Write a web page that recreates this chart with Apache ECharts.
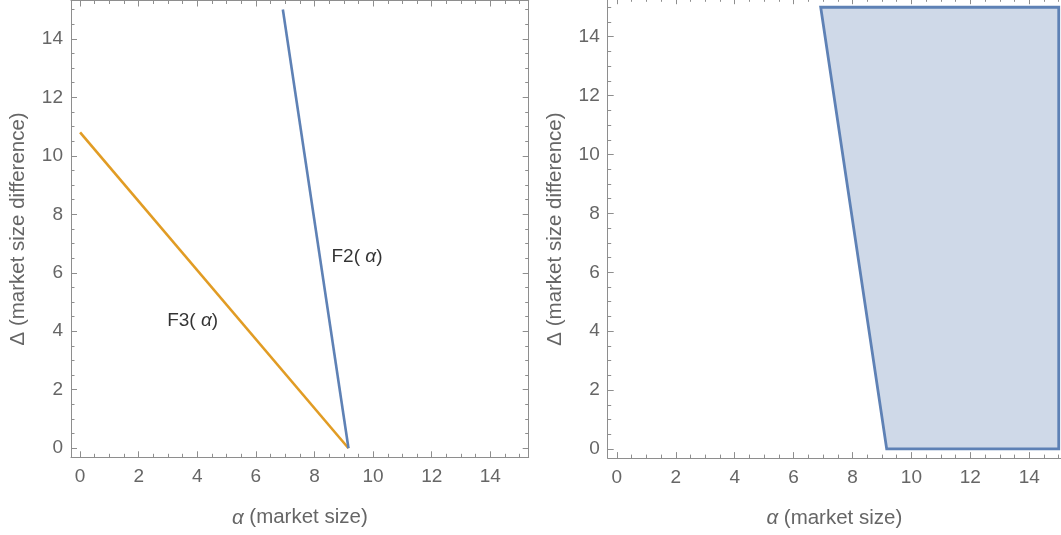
<!DOCTYPE html>
<html>
<head>
<meta charset="utf-8">
<script src="https://cdn.jsdelivr.net/npm/echarts@6/dist/echarts.min.js"></script>
<style>
html,body{margin:0;padding:0;background:#fff;}
#c{width:1061px;height:535px;}
</style>
</head>
<body>
<div id="c"></div>
<script>
// ---- data ----
const f2Alpha = [6.92, 9.16];
const f2Delta = [15, 0];
const f3Alpha = [0, 9.16];
const f3Delta = [10.8, 0];
const regionAlpha = [6.92, 15, 15, 9.16];
const regionDelta = [15, 15, 0, 0];
const majorTicks = [0, 2, 4, 6, 8, 10, 12, 14];
const minorTicks = [0.5, 1, 1.5, 2.5, 3, 3.5, 4.5, 5, 5.5, 6.5, 7, 7.5, 8.5, 9, 9.5, 10.5, 11, 11.5, 12.5, 13, 13.5, 14.5, 15];
const labelF2 = {text: 'F2', alpha: 9.45, delta: 6.55};
const labelF3 = {text: 'F3', alpha: 3.84, delta: 4.35};
// visible axis ranges (left plot full frame; right plot cropped at the page edge)
const leftRange = {xMin: -0.31, xMax: 15.31, yMin: -0.31, yMax: 15.31};
const rightRange = {xMin: -0.31, xMax: 15.077, yMin: -0.31, yMax: 15.246};

const FONT = '"Liberation Sans", Arial, sans-serif';
const FRAME = '#8e8e8e';
const LABEL = '#666666';
const BLUE = '#5E81B5';
const ORANGE = '#E19C24';

function mkAxes(dim, gridIndex, rng, opts) {
  const isX = dim === 'x';
  const posA = isX ? 'bottom' : 'left';
  const posB = isX ? 'top' : 'right';
  const min = isX ? rng.xMin : rng.yMin;
  const max = isX ? rng.xMax : rng.yMax;
  const base = {type: 'value', gridIndex, min, max, splitLine: {show: false}};
  const nameRich = {i: {fontStyle: 'italic', fontFamily: FONT, fontSize: 20.5, color: LABEL}};
  const nm = isX ? '{i|α} (market size)' : 'Δ (market size difference)';
  const list = [];
  list.push(Object.assign({}, base, {
    position: posA,
    name: nm,
    nameLocation: 'middle',
    nameGap: isX ? 50 : 42,
    nameTextStyle: {color: LABEL, fontFamily: FONT, fontSize: 20.5, rich: nameRich},
    axisLine: {show: true, onZero: false, lineStyle: {color: FRAME, width: 1}},
    axisTick: {show: true, inside: true, length: 6, customValues: majorTicks, lineStyle: {color: FRAME}},
    axisLabel: {show: true, customValues: majorTicks, margin: isX ? 10 : 8, color: LABEL, fontFamily: FONT, fontSize: 19},
  }));
  list.push(Object.assign({}, base, {
    position: posA,
    axisLine: {show: false, onZero: false},
    axisTick: {show: true, inside: true, length: 3.5, customValues: minorTicks, lineStyle: {color: FRAME}},
    axisLabel: {show: false},
  }));
  const showB = opts.showB;
  const bLine = opts.bLine;
  const bMaj = opts.bMaj, bMin = opts.bMin;
  list.push(Object.assign({}, base, {
    position: posB,
    axisLine: {show: bLine, onZero: false, lineStyle: {color: FRAME, width: 1}},
    axisTick: {show: showB, inside: true, length: bMaj, customValues: majorTicks, lineStyle: {color: FRAME}},
    axisLabel: {show: false},
  }));
  list.push(Object.assign({}, base, {
    position: posB,
    axisLine: {show: false, onZero: false},
    axisTick: {show: showB, inside: true, length: bMin, customValues: minorTicks, lineStyle: {color: FRAME}},
    axisLabel: {show: false},
  }));
  return list;
}

const xAxes = [].concat(
  mkAxes('x', 0, leftRange, {showB: true, bLine: true, bMaj: 6, bMin: 3.5}),
  mkAxes('x', 1, rightRange, {showB: true, bLine: false, bMaj: 4.2, bMin: 1.8})
);
const yAxes = [].concat(
  mkAxes('y', 0, leftRange, {showB: true, bLine: true, bMaj: 6, bMin: 3.5}),
  mkAxes('y', 1, rightRange, {showB: false, bLine: false, bMaj: 6, bMin: 3.5})
);

function pairs(xs, ys) { return xs.map((x, i) => [x, ys[i]]); }

const labelRich = {
  n: {fontFamily: FONT, fontSize: 19, color: '#000'},
  i: {fontFamily: FONT, fontSize: 19, color: '#000', fontStyle: 'italic'}
};

const option = {
  animation: false,
  backgroundColor: '#ffffff',
  grid: [
    {left: 71, top: 0.5, width: 457.7, height: 456.8, containLabel: false},
    {left: 607.7, top: 0, right: 0, height: 458.1, containLabel: false}
  ],
  xAxis: xAxes,
  yAxis: yAxes,
  series: [
    {
      type: 'line', xAxisIndex: 0, yAxisIndex: 0,
      data: pairs(f3Alpha, f3Delta),
      showSymbol: false, symbol: 'none', silent: true,
      lineStyle: {color: ORANGE, width: 2.6}
    },
    {
      type: 'line', xAxisIndex: 0, yAxisIndex: 0,
      data: pairs(f2Alpha, f2Delta),
      showSymbol: false, symbol: 'none', silent: true,
      lineStyle: {color: BLUE, width: 2.6}
    },
    {
      type: 'scatter', xAxisIndex: 0, yAxisIndex: 0,
      symbolSize: 0, silent: true,
      data: [
        {value: [labelF2.alpha, labelF2.delta], name: labelF2.text},
        {value: [labelF3.alpha, labelF3.delta], name: labelF3.text}
      ],
      label: {
        show: true, position: 'inside',
        formatter: p => '{n|' + p.name + '(}{i| α}{n|)}',
        rich: labelRich
      }
    },
    {
      type: 'custom', xAxisIndex: 4, yAxisIndex: 4,
      silent: true, clip: false,
      data: [[regionAlpha[0], regionDelta[0]]],
      renderItem: function (params, api) {
        const pts = regionAlpha.map((a, i) => api.coord([a, regionDelta[i]]));
        return {
          type: 'polygon',
          shape: {points: pts},
          style: {fill: '#cfd9e8', stroke: BLUE, lineWidth: 2.8, lineJoin: 'miter'}
        };
      }
    }
  ]
};

const chart = echarts.init(document.getElementById('c'), null, {renderer: 'canvas'});
chart.setOption(option);
</script>
</body>
</html>
